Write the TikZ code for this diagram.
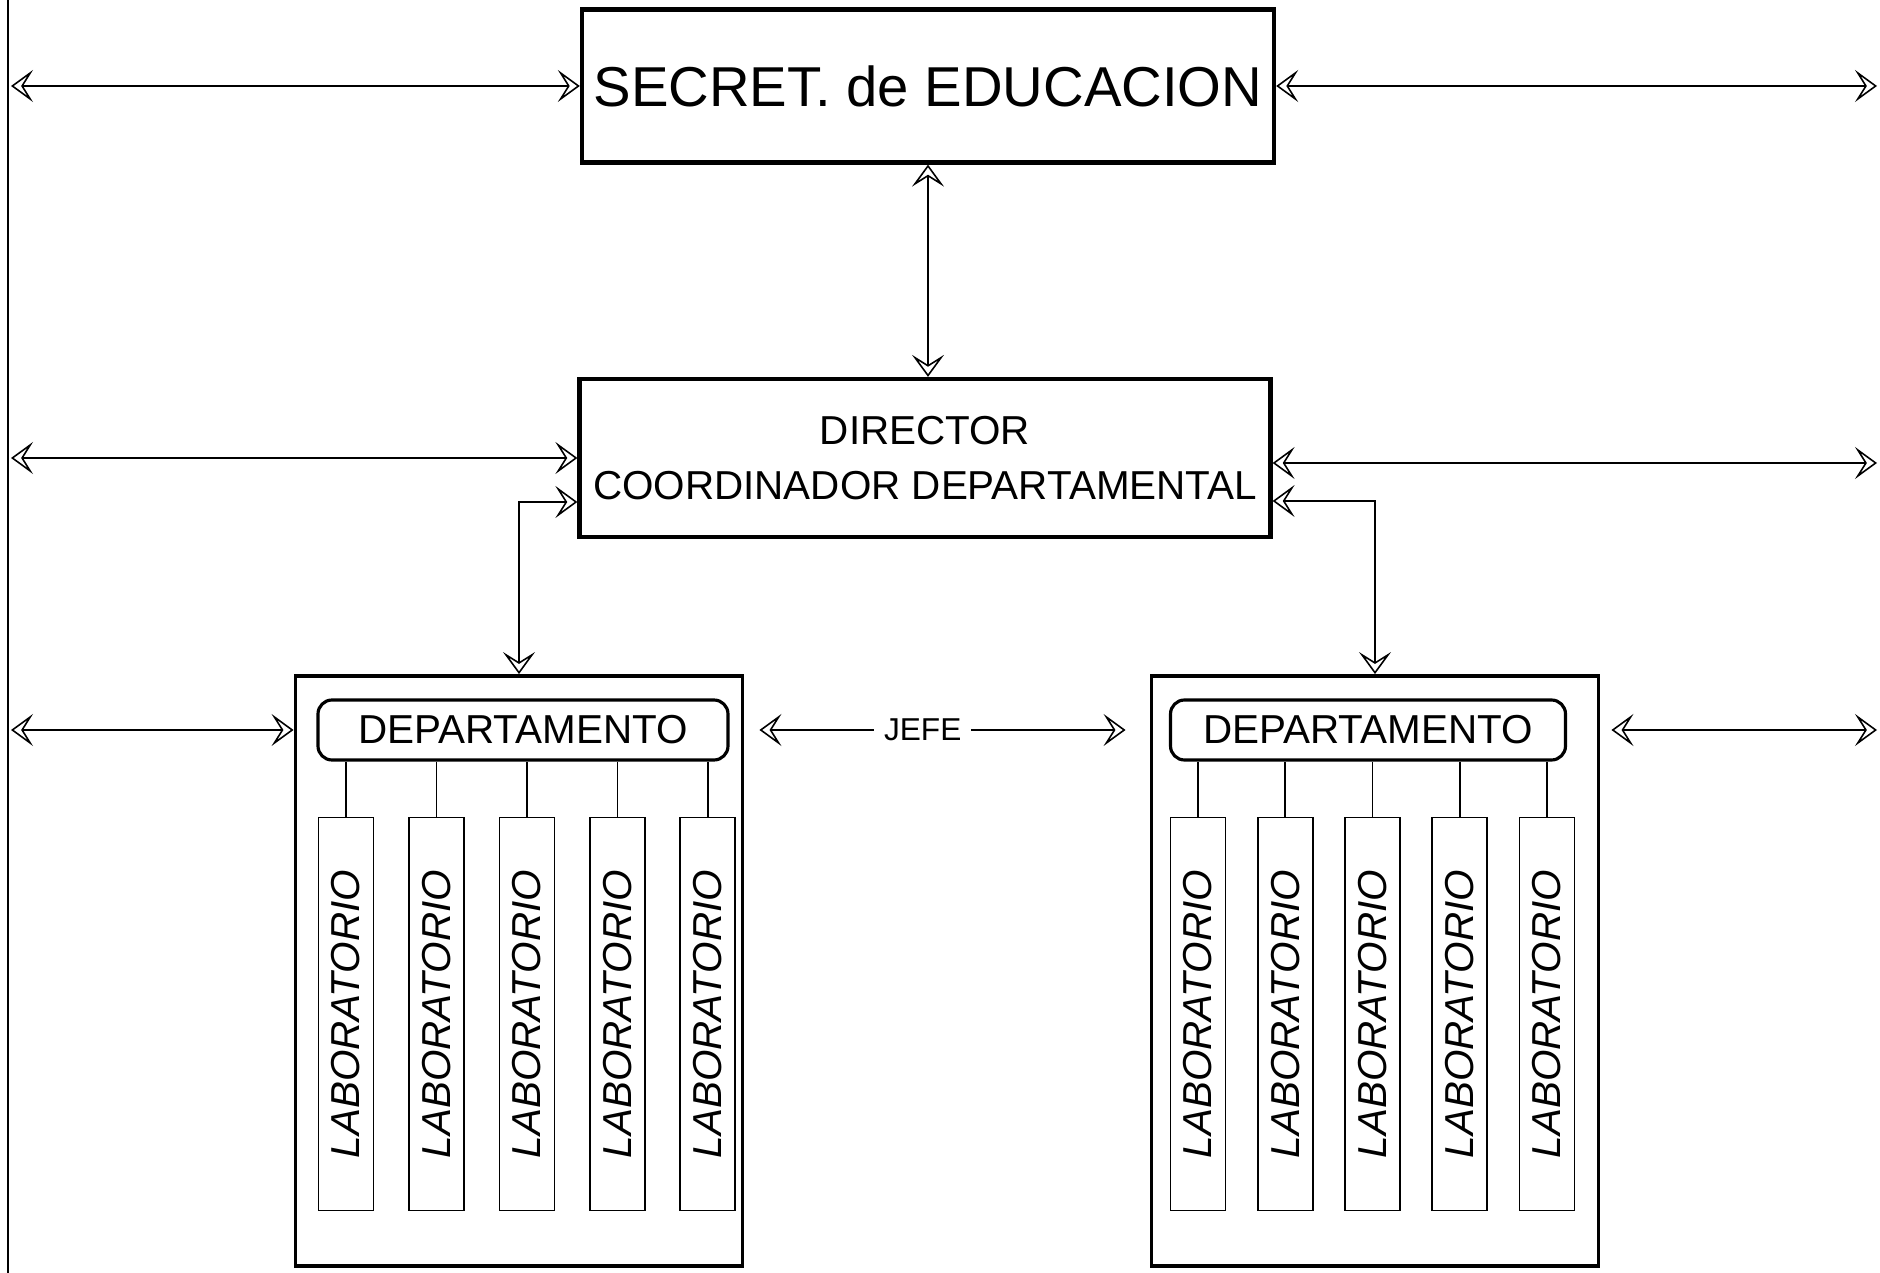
\documentclass[tikz,border=0pt]{standalone}
\usepackage{fontspec}
\setmainfont{Liberation Sans}
\usetikzlibrary{arrows.meta,positioning}

\begin{document}
\begin{tikzpicture}[
    x=0.1mm, y=-0.1mm,
    >={Stealth[open, length=2.2mm, width=3.2mm, inset=1mm]},
    mainbox/.style={rectangle, draw, line width=1.2pt, align=center},
    deptbox/.style={rectangle, draw, line width=1.1pt, minimum width=44.7mm, minimum height=59mm},
    headbox/.style={rectangle, rounded corners=1.4mm, draw, line width=0.9pt, minimum height=6mm, font=\fontsize{11.5}{13}\selectfont},
    labbox/.style={rectangle, draw, line width=0.5pt, minimum width=5.5mm, minimum height=39.3mm, inner sep=0pt, font=\itshape\fontsize{11.5}{14}\selectfont},
    arrow/.style={<->, line width=0.45pt},
    link/.style={line width=0.45pt}
]
\useasboundingbox (0,0) rectangle (1880,1273);

\coordinate (spinetop) at (8,0);
\coordinate (spinebot) at (8,1273);
\coordinate (spine) at (11,0);
\coordinate (rim) at (1877,0);

\node[mainbox, minimum width=68.8mm, minimum height=15.3mm, font=\fontsize{16}{18}\selectfont] (sec) at (928,86) {SECRET. de EDUCACION};
\node[mainbox, minimum width=69.1mm, minimum height=15.8mm, font=\fontsize{11.5}{15.5}\selectfont] (dir) at (925,458) {DIRECTOR\\COORDINADOR DEPARTAMENTAL};
\node[deptbox] (dept1) at (519,971) {};
\node[deptbox] (dept2) at (1375,971) {};
\node[headbox, minimum width=41mm] (head1) at (523,730) {DEPARTAMENTO};
\node[headbox, minimum width=39.5mm] (head2) at (1368,730) {DEPARTAMENTO};

% laboratorios, primer departamento
\node[labbox] (la1) at (346,1014) {\rotatebox{90}{LABORATORIO}};
\node[labbox, right=3.37mm of la1] (la2) {\rotatebox{90}{LABORATORIO}};
\node[labbox, right=3.37mm of la2] (la3) {\rotatebox{90}{LABORATORIO}};
\node[labbox, right=3.37mm of la3] (la4) {\rotatebox{90}{LABORATORIO}};
\node[labbox, right=3.37mm of la4] (la5) {\rotatebox{90}{LABORATORIO}};

% laboratorios, segundo departamento
\node[labbox] (lb1) at (1198,1014) {\rotatebox{90}{LABORATORIO}};
\node[labbox, right=3.05mm of lb1] (lb2) {\rotatebox{90}{LABORATORIO}};
\node[labbox, right=3.05mm of lb2] (lb3) {\rotatebox{90}{LABORATORIO}};
\node[labbox, right=3.05mm of lb3] (lb4) {\rotatebox{90}{LABORATORIO}};
\node[labbox, right=3.05mm of lb4] (lb5) {\rotatebox{90}{LABORATORIO}};

\draw[link] (la1.north) -- (la1.north |- head1.south);
\draw[link] (la2.north) -- (la2.north |- head1.south);
\draw[link] (la3.north) -- (la3.north |- head1.south);
\draw[link] (la4.north) -- (la4.north |- head1.south);
\draw[link] (la5.north) -- (la5.north |- head1.south);
\draw[link] (lb1.north) -- (lb1.north |- head2.south);
\draw[link] (lb2.north) -- (lb2.north |- head2.south);
\draw[link] (lb3.north) -- (lb3.north |- head2.south);
\draw[link] (lb4.north) -- (lb4.north |- head2.south);
\draw[link] (lb5.north) -- (lb5.north |- head2.south);

\coordinate (dirup) at ([yshift=-0.5mm]dir.east);
\coordinate (dirlowl) at ([yshift=-4.4mm]dir.west);
\coordinate (dirlowr) at ([yshift=-4.3mm]dir.east);

\draw[link] (spinetop) -- (spinebot);
\draw[arrow] (spine |- sec.west) -- (sec.west);
\draw[arrow] (sec.east) -- (rim |- sec.east);
\draw[arrow] (sec.south) -- (sec.south |- dir.north);
\draw[arrow] (spine |- dir.west) -- (dir.west);
\draw[arrow] (dirup) -- (rim |- dirup);
\draw[arrow] (dirlowl) -| (dept1.north);
\draw[arrow] (dirlowr) -| (dept2.north);
\draw[arrow] (spine |- head1) -- (dept1.west |- head1);
\draw[arrow, shorten <=1.5mm, shorten >=2.4mm] (dept1.east |- head1) -- node[pos=0.44, fill=white, inner xsep=1mm, font=\fontsize{9}{10}\selectfont] (jefe) {JEFE} (dept2.west |- head2);
\draw[arrow, shorten <=1.1mm] (dept2.east |- head2) -- (rim |- head2);
\end{tikzpicture}
\end{document}
